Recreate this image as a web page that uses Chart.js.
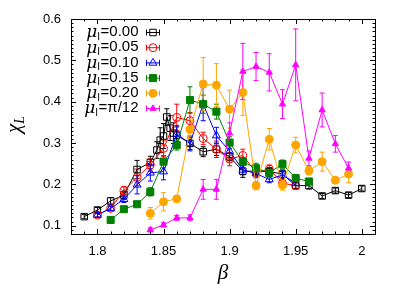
<!DOCTYPE html>
<html>
<head>
<meta charset="utf-8">
<script src="https://cdn.jsdelivr.net/npm/chart.js@4.4.1/dist/chart.umd.min.js"></script>
<style>
  html, body { margin: 0; padding: 0; background: #fff; }
  #wrap { width: 407px; height: 285px; }
</style>
</head>
<body>
<div id="wrap"><canvas id="chiChart" width="407" height="285"></canvas></div>
<script>
// axis ticks
const xTicks = [1.8, 1.85, 1.9, 1.95, 2];
const yTicks = [0.1, 0.2, 0.3, 0.4, 0.5, 0.6];

// mu_I = 0.00
const beta00 = [1.79, 1.80, 1.81, 1.82, 1.83, 1.84, 1.845, 1.8475, 1.85, 1.8525, 1.855, 1.8575, 1.86, 1.87, 1.88, 1.89, 1.90, 1.91, 1.92, 1.93, 1.94, 1.95, 1.96, 1.97, 1.98, 1.99, 2.00];
const chi00 = [0.122, 0.138, 0.160, 0.174, 0.236, 0.253, 0.283, 0.307, 0.317, 0.363, 0.336, 0.324, 0.319, 0.299, 0.279, 0.285, 0.267, 0.232, 0.232, 0.231, 0.225, 0.197, 0.197, 0.172, 0.185, 0.174, 0.190];
const err00 = [0.005, 0.006, 0.008, 0.01, 0.022, 0.015, 0.02, 0.03, 0.03, 0.02, 0.03, 0.025, 0.02, 0.015, 0.012, 0.015, 0.01, 0.015, 0.01, 0.01, 0.01, 0.008, 0.008, 0.006, 0.006, 0.006, 0.006];

// mu_I = 0.05
const beta05 = [1.80, 1.81, 1.82, 1.83, 1.84, 1.85, 1.86, 1.87, 1.88, 1.89, 1.90, 1.91, 1.92, 1.93, 1.94, 1.95];
const chi05 = [0.126, 0.142, 0.185, 0.217, 0.247, 0.287, 0.362, 0.354, 0.311, 0.285, 0.261, 0.270, 0.229, 0.237, 0.203, 0.197];
const err05 = [0.005, 0.005, 0.01, 0.02, 0.015, 0.02, 0.032, 0.02, 0.015, 0.02, 0.016, 0.015, 0.01, 0.01, 0.008, 0.006];

// mu_I = 0.10
const beta10 = [1.80, 1.81, 1.82, 1.83, 1.84, 1.85, 1.86, 1.87, 1.88, 1.89, 1.90, 1.91, 1.92, 1.93, 1.94, 1.95];
const chi10 = [0.126, 0.142, 0.164, 0.199, 0.228, 0.231, 0.322, 0.299, 0.394, 0.318, 0.280, 0.235, 0.226, 0.212, 0.223, 0.203];
const err10 = [0.005, 0.006, 0.008, 0.022, 0.02, 0.02, 0.02, 0.018, 0.04, 0.02, 0.015, 0.012, 0.01, 0.008, 0.008, 0.006];

// mu_I = 0.15
const beta15 = [1.81, 1.82, 1.83, 1.84, 1.85, 1.86, 1.87, 1.88, 1.89, 1.90, 1.91, 1.92, 1.93, 1.94, 1.95, 1.96];
const chi15 = [0.114, 0.140, 0.152, 0.182, 0.255, 0.295, 0.404, 0.394, 0.376, 0.301, 0.255, 0.239, 0.228, 0.249, 0.215, 0.207];
const err15 = [0.005, 0.006, 0.006, 0.01, 0.015, 0.012, 0.032, 0.022, 0.018, 0.014, 0.01, 0.012, 0.01, 0.01, 0.008, 0.006];

// mu_I = 0.20
const beta20 = [1.84, 1.85, 1.86, 1.87, 1.88, 1.89, 1.90, 1.91, 1.92, 1.93, 1.94, 1.95, 1.96, 1.97, 1.98, 1.99];
const chi20 = [0.130, 0.158, 0.165, 0.333, 0.443, 0.440, 0.382, 0.422, 0.197, 0.309, 0.198, 0.295, 0.233, 0.255, 0.210, 0.225];
const err20 = [0.014, 0.022, 0.008, 0.022, 0.064, 0.052, 0.046, 0.055, 0.01, 0.026, 0.012, 0.019, 0.01, 0.023, 0.008, 0.021];

// mu_I = pi/12
const betaPi = [1.84, 1.85, 1.86, 1.87, 1.88, 1.89, 1.90, 1.91, 1.92, 1.93, 1.94, 1.95, 1.96, 1.97, 1.98, 1.99];
const chiPi = [0.090, 0.102, 0.119, 0.119, 0.188, 0.188, 0.324, 0.473, 0.485, 0.471, 0.394, 0.489, 0.263, 0.380, 0.298, 0.239];
const errPi = [0.005, 0.005, 0.006, 0.007, 0.024, 0.024, 0.025, 0.068, 0.034, 0.045, 0.035, 0.087, 0.018, 0.041, 0.02, 0.015];

const series = [
  { label: "0.00", beta: beta00, chi: chi00, err: err00, color: "#000000", style: "rect", radius: 4.6, filled: false },
  { label: "0.05", beta: beta05, chi: chi05, err: err05, color: "#ff0000", style: "circle", radius: 4, filled: false },
  { label: "0.10", beta: beta10, chi: chi10, err: err10, color: "#0000ff", style: "triangle", radius: 4.6, filled: false },
  { label: "0.15", beta: beta15, chi: chi15, err: err15, color: "#008000", style: "rect", radius: 5, filled: true },
  { label: "0.20", beta: beta20, chi: chi20, err: err20, color: "#ffa500", style: "circle", radius: 4, filled: true },
  { label: "\u03c0/12", beta: betaPi, chi: chiPi, err: errPi, color: "#ff00ff", style: "triangle", radius: 3.6, filled: true },
];

const tickFont = "13px 'Liberation Sans', Arial, sans-serif";

// error bars under the markers
const errorBars = {
  id: "errorBars",
  beforeDatasetsDraw(chart) {
    const ctx = chart.ctx;
    const xs = chart.scales.x, ys = chart.scales.y;
    ctx.save();
    ctx.lineWidth = 1;
    series.forEach((s) => {
      ctx.strokeStyle = s.color;
      s.beta.forEach((b, i) => {
        const px = xs.getPixelForValue(b);
        const top = ys.getPixelForValue(s.chi[i] + s.err[i]);
        const bot = ys.getPixelForValue(s.chi[i] - s.err[i]);
        ctx.beginPath();
        ctx.moveTo(px, top); ctx.lineTo(px, bot);
        ctx.moveTo(px - 2.5, top); ctx.lineTo(px + 2.5, top);
        ctx.moveTo(px - 2.5, bot); ctx.lineTo(px + 2.5, bot);
        ctx.stroke();
      });
    });
    ctx.restore();
  },
};

// gnuplot-like frame, inward ticks, titles and key
const frame = {
  id: "frame",
  afterDraw(chart) {
    const ctx = chart.ctx;
    const a = chart.chartArea;
    const xs = chart.scales.x, ys = chart.scales.y;
    ctx.save();
    ctx.strokeStyle = "#000";
    ctx.lineWidth = 1;
    ctx.strokeRect(Math.round(a.left) + 0.5, Math.round(a.top) + 0.5, Math.round(a.right - a.left), Math.round(a.bottom - a.top));

    ctx.beginPath();
    for (let k = 178; k <= 201; k++) {
      const v = k / 100;
      const px = Math.round(xs.getPixelForValue(v)) + 0.5;
      const len = k % 5 === 0 ? 5 : 2.5;
      ctx.moveTo(px, a.bottom); ctx.lineTo(px, a.bottom - len);
      ctx.moveTo(px, a.top); ctx.lineTo(px, a.top + len);
    }
    for (let k = 8; k <= 60; k++) {
      const v = k / 100;
      const py = Math.round(ys.getPixelForValue(v)) + 0.5;
      const len = k % 10 === 0 ? 5 : 2.5;
      ctx.moveTo(a.left, py); ctx.lineTo(a.left + len, py);
      ctx.moveTo(a.right, py); ctx.lineTo(a.right - len, py);
    }
    ctx.stroke();

    // axis titles
    ctx.fillStyle = "#000";
    ctx.font = "italic 21px 'Liberation Serif', 'DejaVu Serif', serif";
    ctx.textAlign = "center";
    ctx.textBaseline = "alphabetic";
    ctx.fillText("\u03b2", (a.left + a.right) / 2, a.bottom + 45);

    ctx.save();
    ctx.translate(20, (a.top + a.bottom) / 2 - 2);
    ctx.rotate(-Math.PI / 2);
    ctx.textAlign = "left";
    ctx.font = "italic 21px 'Liberation Serif', 'DejaVu Serif', serif";
    const wChi = ctx.measureText("\u03c7").width;
    ctx.font = "italic 14px 'Liberation Serif', 'DejaVu Serif', serif";
    const wL = ctx.measureText("L").width;
    const x0 = -(wChi + wL) / 2;
    ctx.font = "italic 21px 'Liberation Serif', 'DejaVu Serif', serif";
    ctx.fillText("\u03c7", x0, 0);
    ctx.font = "italic 14px 'Liberation Serif', 'DejaVu Serif', serif";
    ctx.fillText("L", x0 + wChi, 4);
    ctx.restore();

    // key
    const textRight = a.left + 67;
    const sampleL = a.left + 75, sampleR = a.left + 89;
    series.forEach((s, i) => {
      const yRow = a.top + 13 + i * 15.2;
      const muFont = "italic 17px 'DejaVu Serif', serif";
      const subFont = "10px 'Liberation Sans', Arial, sans-serif";
      const restFont = "15px 'Liberation Sans', Arial, sans-serif";
      const rest = "=" + s.label;
      ctx.font = muFont; const wMu = ctx.measureText("\u03bc").width;
      ctx.font = subFont; const wSub = ctx.measureText("I").width;
      ctx.font = restFont; const wRest = ctx.measureText(rest).width;
      let x = textRight - (wMu + wSub + wRest);
      ctx.textAlign = "left";
      ctx.textBaseline = "middle";
      ctx.fillStyle = "#000";
      ctx.font = muFont; ctx.fillText("\u03bc", x, yRow + 1); x += wMu;
      ctx.font = subFont; ctx.fillText("I", x, yRow + 5); x += wSub + 0.5;
      ctx.font = restFont; ctx.fillText(rest, x, yRow);

      ctx.strokeStyle = s.color;
      ctx.lineWidth = 1;
      ctx.beginPath();
      ctx.moveTo(sampleL, yRow + 0.5); ctx.lineTo(sampleR, yRow + 0.5);
      ctx.moveTo(sampleL + 0.5, yRow - 2.5); ctx.lineTo(sampleL + 0.5, yRow + 3.5);
      ctx.moveTo(sampleR - 0.5, yRow - 2.5); ctx.lineTo(sampleR - 0.5, yRow + 3.5);
      ctx.stroke();
      ctx.fillStyle = s.filled ? s.color : "rgba(0,0,0,0)";
      Chart.helpers.drawPoint(ctx, { pointStyle: s.style, radius: s.radius, rotation: 0, borderWidth: 1 }, (sampleL + sampleR) / 2, yRow + 0.5);
    });
    ctx.restore();
  },
};

const datasets = series.map((s, i) => ({
  label: s.label,
  data: s.beta.map((b, j) => ({ x: b, y: s.chi[j] })),
  borderColor: s.color,
  backgroundColor: s.filled ? s.color : "rgba(0,0,0,0)",
  pointBorderColor: s.color,
  pointBackgroundColor: s.filled ? s.color : "rgba(0,0,0,0)",
  pointStyle: s.style,
  pointRadius: s.radius,
  pointBorderWidth: 1,
  borderWidth: 1,
  tension: 0,
  fill: false,
  order: series.length - i,
}));

new Chart(document.getElementById("chiChart").getContext("2d"), {
  type: "line",
  data: { datasets },
  plugins: [errorBars, frame],
  options: {
    responsive: false,
    animation: false,
    devicePixelRatio: 1,
    layout: { padding: { top: 19, right: 32, left: 0, bottom: 0 } },
    plugins: { legend: { display: false }, tooltip: { enabled: false } },
    scales: {
      x: {
        type: "linear",
        min: 1.78,
        max: 2.01,
        afterBuildTicks: (s) => { s.ticks = xTicks.map((v) => ({ value: v })); },
        afterFit: (s) => { s.height = 51; },
        grid: { display: false, drawTicks: false },
        border: { display: false },
        ticks: { color: "#000", font: { family: "'Liberation Sans', Arial, sans-serif", size: 13 }, padding: 10, maxRotation: 0, callback: (v) => String(v) },
      },
      y: {
        type: "linear",
        min: 0.08,
        max: 0.6,
        afterBuildTicks: (s) => { s.ticks = yTicks.map((v) => ({ value: v })); },
        afterFit: (s) => { s.width = 71; },
        grid: { display: false, drawTicks: false },
        border: { display: false },
        ticks: { color: "#000", font: { family: "'Liberation Sans', Arial, sans-serif", size: 13 }, padding: 10, callback: (v) => v.toFixed(1) },
      },
    },
  },
});
</script>
</body>
</html>
